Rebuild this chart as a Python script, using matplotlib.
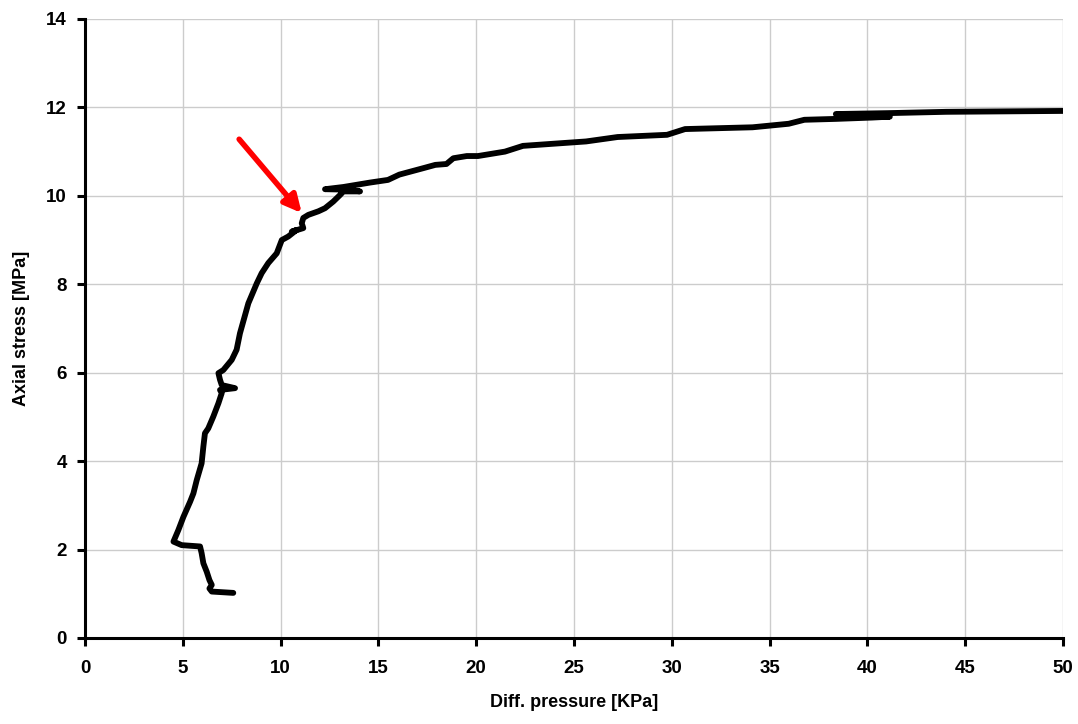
import numpy as np
import matplotlib.pyplot as plt

plt.rcParams['font.family'] = ['Liberation Sans', 'DejaVu Sans']

# Diff. pressure [KPa] vs axial stress [MPa]
diff_p = [7.58, 6.48, 6.36, 6.48, 6.36, 6.22, 6.05, 5.96, 5.88, 4.94, 4.52,
          4.77, 5.03, 5.37, 5.54, 5.71, 5.96, 6.05, 6.13, 6.30, 6.56, 6.82,
          6.99, 6.90, 7.67, 6.99, 6.90, 6.82, 7.07, 7.50, 7.75, 7.92, 8.35,
          8.78, 9.03, 9.37, 9.80, 10.06, 10.39, 10.82, 10.57, 11.16, 11.08,
          11.16, 11.42, 11.93, 12.27, 12.69, 13.04, 13.21, 14.06, 13.38,
          12.27, 13.21, 14.57, 15.49, 16.07, 17.33, 17.91, 18.48, 18.83,
          19.52, 20.09, 21.47, 22.39, 25.62, 27.23, 29.76, 30.68, 34.13,
          35.98, 36.78, 38.39, 40.24, 41.15, 38.39, 41.04, 44.03, 50.0]
axial = [1.02, 1.05, 1.12, 1.20, 1.31, 1.50, 1.69, 1.92, 2.07, 2.10, 2.18,
         2.44, 2.74, 3.08, 3.27, 3.57, 3.95, 4.33, 4.63, 4.74, 5.01, 5.31,
         5.54, 5.61, 5.65, 5.72, 5.84, 5.99, 6.06, 6.29, 6.52, 6.89, 7.57,
         8.02, 8.25, 8.48, 8.70, 9.00, 9.08, 9.23, 9.19, 9.27, 9.38,
         9.50, 9.57, 9.65, 9.72, 9.87, 10.02, 10.10, 10.10, 10.14,
         10.15, 10.20, 10.30, 10.36, 10.48, 10.63, 10.70, 10.72, 10.85,
         10.90, 10.90, 11.00, 11.13, 11.23, 11.33, 11.38, 11.51, 11.55,
         11.63, 11.72, 11.74, 11.77, 11.79, 11.85, 11.87, 11.90, 11.92]

# arrow (tail, tip)
arrow_tail = (7.88, 11.28)
arrow_tip = (11.08, 9.61)

fig = plt.figure(figsize=(10.78, 7.24), dpi=100)
ax = fig.add_axes([0.0789, 0.1188, 0.9071, 0.855])

ax.plot(diff_p, axial, color='black', lw=4.2, solid_capstyle='round',
        solid_joinstyle='round', zorder=3)

ax.annotate('', xy=arrow_tip, xytext=arrow_tail,
            arrowprops=dict(arrowstyle='-|>', color='red', lw=4,
                            mutation_scale=26, shrinkA=0, shrinkB=0),
            zorder=4)

ax.set_xlim(0, 50)
ax.set_ylim(0, 14)
ax.set_xticks(np.arange(0, 51, 5))
ax.set_yticks(np.arange(0, 15, 2))
ax.grid(True, color='#cccccc', lw=1)
ax.set_axisbelow(True)

for s in ['top', 'right']:
    ax.spines[s].set_visible(False)
for s in ['left', 'bottom']:
    ax.spines[s].set_linewidth(2.2)

ax.tick_params(direction='out', length=6, width=2.2, labelsize=13.5)
ax.tick_params(axis='x', pad=10)
ax.tick_params(axis='y', pad=7)
for lab in ax.get_xticklabels() + ax.get_yticklabels():
    lab.set_fontweight('bold')

ax.set_xlabel('Diff. pressure [KPa]', fontsize=13, fontweight='bold', labelpad=12)
ax.set_ylabel('Axial stress [MPa]', fontsize=13, fontweight='bold', labelpad=12)

fig.savefig('out.png', dpi=100)
